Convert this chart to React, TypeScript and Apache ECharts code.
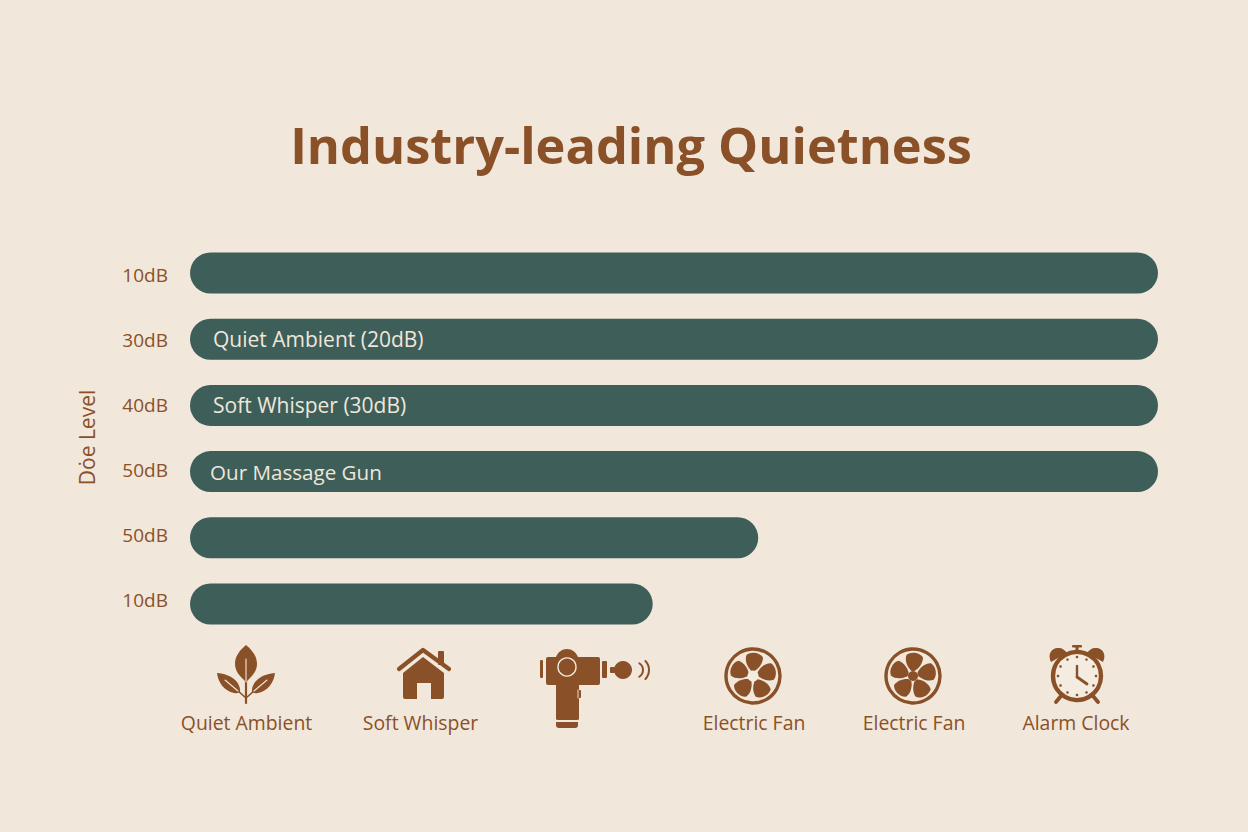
import React, { useEffect, useRef } from "react";
import * as echarts from "echarts";

const titleText = "Industry-leading Quietness";
const axisName = "Dȯe Level";
const tickLabels = ["10dB", "30dB", "40dB", "50dB", "50dB", "10dB"];
const rowKeys = ["r1", "r2", "r3", "r4", "r5", "r6"];
const barValues = [100, 100, 100, 100, 58.7, 47.8];
const barTexts = ["", "Quiet Ambient (20dB)", "Soft Whisper (30dB)", "Our Massage Gun", "", ""];
const iconNames = ["Quiet Ambient", "Soft Whisper", "Electric Fan", "Electric Fan", "Alarm Clock"];
const iconNameX = [246.5, 420.5, 754, 914, 1076];

const BG = "#F1E7DB";
const BAR = "#3E5E5A";
const BROWN = "#8A5128";
const FONT = '"Open Sans", sans-serif';

const shapes: Record<string, string> = {
  leafC: "M246 645 C252 650 257 656 257 664 C257 672 251 677 246 682 C241 677 235 672 235 664 C235 656 240 650 246 645 Z",
  leafR: "M275 673 C274 682 268 691 258 693 C255 693.5 253 693 252 692 C251 683 260 674 275 673 Z",
  leafL: "M217 673 C218 682 224 691 234 693 C237 693.5 239 693 240 692 C241 683 232 674 217 673 Z",
  house: "M423 657 L444 673 L444 697 Q444 699 442 699 L431 699 L431 683 L417 683 L417 699 L405 699 Q403 699 403 697 L403 673 Z",
  gunBody: "M548 657 L556 657 C558 652 562 649 567 649 C572 649 576 652 578 657 L598 657 Q600 657 600 659 L600 683 Q600 685 598 685 L579 685 L579 719 Q579 720 577 720 L558 720 Q556 720 556 719 L556 685 L548 685 Q546 685 546 683 L546 659 Q546 657 548 657 Z",
  gunBase: "M556 722 L578 722 L578 725 Q578 728 575 728 L559 728 Q556 728 556 725 Z",
  blade: "M-1.5 -5 C-6 -9 -8.5 -16 -6.5 -21 C-2 -25 7 -23.5 10 -18.5 C10 -12 5 -7 1.5 -5 Z",
  bellL: "M1051 662 C1047 654 1052 647 1059 648 C1062 648 1065 650 1067 653 Z",
  bellR: "M1103 662 C1107 654 1102 647 1095 648 C1092 648 1089 650 1087 653 Z",
};
Object.entries(shapes).forEach(([k, d]) => {
  echarts.graphic.registerShape(k, echarts.graphic.extendPath(d as any, {}) as any);
});

const solid = (type: string, extra: any = {}) => ({ type, silent: true, style: { fill: BROWN }, ...extra });
const line = (x1: number, y1: number, x2: number, y2: number, stroke: string, lineWidth: number) => ({
  type: "line",
  silent: true,
  shape: { x1, y1, x2, y2 },
  style: { stroke, lineWidth, lineCap: "round" },
});
const circle = (cx: number, cy: number, r: number, style: any) => ({
  type: "circle",
  silent: true,
  shape: { cx, cy, r },
  style,
});
const rect = (x: number, y: number, width: number, height: number, fill: string, r = 1) => ({
  type: "rect",
  silent: true,
  shape: { x, y, width, height, r },
  style: { fill },
});
const arc = (cx: number, cy: number, r: number, a: number) => ({
  type: "arc",
  silent: true,
  shape: { cx, cy, r, startAngle: -a, endAngle: a },
  style: { stroke: BROWN, lineWidth: 2, fill: "none", lineCap: "round" },
});

function fan(cx: number, cy: number, hubDark: boolean) {
  const blades = [0, 1, 2, 3, 4].map((i) =>
    solid("blade", { x: cx, y: cy, rotation: (-i * 2 * Math.PI) / 5 })
  );
  return [
    circle(cx, cy, 27, { fill: "none", stroke: BROWN, lineWidth: 3.4 }),
    ...blades,
    hubDark
      ? circle(cx, cy, 5, { fill: BROWN })
      : circle(cx, cy, 5.5, { fill: "#F4ECE0" }),
  ];
}

function clock() {
  const cx = 1077;
  const cy = 676;
  const dots = Array.from({ length: 12 }, (_, i) => {
    const a = (i * Math.PI) / 6;
    return circle(cx + 19 * Math.sin(a), cy - 19 * Math.cos(a), 1.3, { fill: BROWN });
  });
  return [
    solid("bellL"),
    solid("bellR"),
    rect(1072, 645, 10, 2.6, BROWN),
    rect(1075.5, 646, 3, 5, BROWN, 0),
    line(1061, 696, 1056, 702, BROWN, 3.8),
    line(1093, 696, 1098, 702, BROWN, 3.8),
    circle(cx, cy, 24, { fill: "#F4ECE0", stroke: BROWN, lineWidth: 4.4 }),
    ...dots,
    line(cx, 666, cx, 677, BROWN, 2.4),
    line(cx, 677, 1087, 684, BROWN, 2.8),
  ];
}

function icons() {
  return [
    // leaf
    line(246, 680, 246, 703, BROWN, 2.2),
    line(246, 698, 255, 690, BROWN, 1.6),
    line(246, 698, 237, 690, BROWN, 1.6),
    solid("leafC"),
    solid("leafR"),
    solid("leafL"),
    line(246, 659, 246, 682, BG, 1.1),
    line(254, 691, 267, 680, BG, 1.1),
    line(238, 691, 225, 680, BG, 1.1),
    // house
    rect(438, 651, 6, 14, BROWN),
    {
      type: "polyline",
      silent: true,
      shape: { points: [[399, 669], [423, 650], [449, 669]] },
      style: { stroke: BROWN, lineWidth: 4.2, fill: "none", lineCap: "round", lineJoin: "round" },
    },
    solid("house"),
    // massage gun
    solid("gunBody"),
    solid("gunBase"),
    rect(540, 660, 3, 18, BROWN),
    rect(602, 661, 5, 17, BROWN),
    rect(610, 667, 8, 6, BROWN),
    circle(623, 670, 9, { fill: BROWN }),
    circle(567, 667, 9, { fill: BROWN, stroke: "#F4ECE0", lineWidth: 1.4 }),
    rect(577, 690, 4, 8, BROWN),
    line(578, 690, 578, 698, "#F4ECE0", 0.9),
    arc(635, 670, 8, 1),
    arc(636, 670, 13, 0.76),
    // fans and clock
    ...fan(753, 676, false),
    ...fan(913, 676, true),
    ...clock(),
    // captions
    ...iconNames.map((text, i) => ({
      type: "text",
      silent: true,
      x: iconNameX[i],
      y: 722.5,
      style: {
        text,
        fill: BROWN,
        font: `400 19.4px ${FONT}`,
        textAlign: "center",
        textVerticalAlign: "middle",
      },
    })),
  ];
}

export default function App() {
  const ref = useRef<HTMLDivElement>(null);
  useEffect(() => {
    document.body.style.margin = "0";
    const chart = echarts.init(ref.current!, null, { renderer: "svg" });
    chart.setOption({
      animation: false,
      backgroundColor: BG,
      textStyle: { fontFamily: FONT },
      title: {
        text: titleText,
        left: 626,
        top: 114,
        textAlign: "center",
        textStyle: { fontFamily: FONT, fontSize: 50.5, fontWeight: 700, color: BROWN },
      },
      grid: [
        { left: 190, width: 968, top: 239.9, height: 397.2 },
        { left: 190, width: 968, top: 242.5, height: 390 },
      ],
      xAxis: [
        { type: "value", gridIndex: 0, min: 0, max: 100, show: false },
        { type: "value", gridIndex: 1, min: 0, max: 100, show: false },
      ],
      yAxis: [
        { type: "category", gridIndex: 0, inverse: true, data: rowKeys, show: false },
        {
          type: "category",
          gridIndex: 1,
          inverse: true,
          data: tickLabels.map((value, i) => ({ value: `${i}|${value}` })),
          name: axisName,
          nameLocation: "middle",
          nameGap: 93,
          nameRotate: 90,
          nameTextStyle: { color: BROWN, fontSize: 21, fontFamily: FONT },
          axisLine: { show: false },
          axisTick: { show: false },
          splitLine: { show: false },
          axisLabel: {
            color: BROWN,
            fontSize: 19,
            fontFamily: FONT,
            margin: 22,
            formatter: (v: string) => v.split("|")[1],
          },
        },
      ],
      series: [
        {
          type: "bar",
          xAxisIndex: 0,
          yAxisIndex: 0,
          barWidth: 41,
          itemStyle: { color: BAR, borderRadius: 20.5 },
          data: barValues.map((value, i) => ({
            value,
            label: {
              show: !!barTexts[i],
              formatter: barTexts[i],
              position: "insideLeft",
              distance: i === 3 ? 20 : 23,
              color: "#EEE7D9",
              fontSize: i === 3 ? 20.6 : 21,
              fontFamily: FONT,
            },
          })),
        },
      ],
      graphic: { elements: icons() },
    });
    return () => chart.dispose();
  }, []);
  return <div ref={ref} style={{ position: "absolute", left: 0, top: 0, width: 1248, height: 832 }} />;
}
